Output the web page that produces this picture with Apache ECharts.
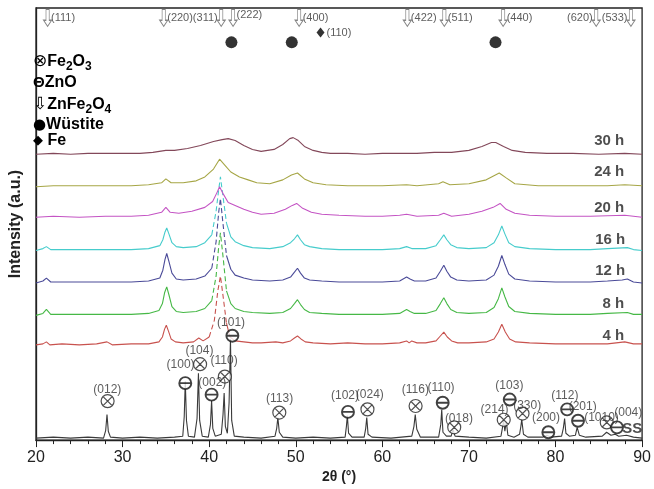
<!DOCTYPE html>
<html><head><meta charset="utf-8">
<script src="https://cdn.jsdelivr.net/npm/echarts@6/dist/echarts.min.js"></script>
<style>html,body{margin:0;padding:0;background:#fff}#c{width:654px;height:489px}</style>
</head><body><div id="c"></div>
<script>
// ---------- data (2θ in degrees, intensity in arbitrary units above each pattern's own baseline) ----------
const seriesNames = ['SS', '4 h', '8 h', '12 h', '16 h', '20 h', '24 h', '30 h'];
const offsets = [2, 97, 127, 160, 193, 227, 258, 291];
const colors = ['#3a3a3a', '#c8524e', '#46b846', '#4a4a98', '#46cccc', '#c454c4', '#a6a646', '#83485a'];

const ss = [[20,0],[22,1],[24,0],[26,1],[27.8,0],[28.05,8],[28.2,24],[28.35,7],[28.6,1],[30,0],[32,1],[34,0],[36,1],[36.95,2],[37.12,22],[37.24,58],[37.38,18],[37.6,2],[38.3,1],[38.6,20],[38.76,66],[38.9,18],[39.2,2],[39.9,1],[40.15,14],[40.28,38],[40.42,10],[40.7,2],[41.4,4],[41.6,24],[41.73,46],[41.87,12],[42.1,5],[42.3,36],[42.46,101],[42.6,18],[42.9,2],[44,1],[46,0],[47.6,2],[47.8,10],[47.93,21],[48.1,6],[48.5,1],[50,0],[52,1],[54,0],[55.7,1],[55.85,12],[55.96,23],[56.1,5],[56.5,1],[57.9,1],[58.08,10],[58.2,21],[58.35,4],[58.8,1],[61,0],[63.4,2],[63.65,12],[63.8,24],[63.98,9],[64.4,1],[66.5,1],[66.75,14],[66.86,29],[67.0,6],[67.4,2],[67.95,2],[68.15,9],[68.4,2],[70,1],[72,0],[73.7,2],[73.9,12],[74.0,18],[74.15,7],[74.32,17],[74.5,3],[75.2,1],[75.85,4],[76.0,12],[76.1,19],[76.3,4],[76.8,1],[78.5,1],[79.0,3],[79.2,5],[79.5,1],[80.7,2],[80.9,10],[81.05,20],[81.2,5],[81.6,2],[82.3,3],[82.5,11],[82.75,3],[83.5,1],[85.4,2],[85.9,6],[86.4,3],[86.9,4],[87.3,2],[88.2,3],[89,1],[90,0]];

const h4 = [[20,0],[20.8,1],[21.2,3],[21.6,0],[23,1],[25,0],[27,1],[28.2,3],[28.8,0],[31,1],[33,1],[34.2,3],[34.6,8],[34.85,16],[35.05,20],[35.3,14],[35.6,6],[36.1,3],[37,2],[38.2,3],[38.8,7],[39.3,4],[40.0,8],[40.6,25],[41.0,55],[41.3,70],[41.6,50],[42.0,22],[42.4,8],[43,4],[44,3],[45,2],[46,2],[47.7,3],[48.5,2],[49.4,4],[49.85,7],[50.2,9],[50.6,6],[51.1,3],[52,2],[54,1],[56,2],[58,1],[60,1],[62,2],[62.8,4],[63.1,2],[63.4,4],[64,2],[65,2],[66.2,4],[66.7,9],[67.1,13],[67.5,8],[68.0,4],[68.7,2],[70,2],[72,3],[72.9,6],[73.4,13],[73.8,21],[74.2,13],[74.7,6],[75.4,3],[77,2],[80,1],[83,1],[86,1],[88,3],[89,1],[90,1]];

const h8 = [[20,0],[20.8,2],[21.2,6],[21.7,1],[23,1],[25,1],[28,1],[31,1],[33,2],[34.2,5],[34.6,12],[34.85,23],[35.1,29],[35.35,21],[35.7,9],[36.2,4],[37,3],[38.5,4],[39.5,7],[40.3,15],[40.8,40],[41.1,70],[41.3,84],[41.6,60],[42.0,25],[42.5,12],[43,7],[44,4],[45,3],[47,2],[48.5,3],[49.4,7],[49.85,12],[50.2,16],[50.55,11],[51.0,6],[51.6,3],[53,2],[55,1],[58,1],[60,1],[62,2],[62.4,4],[62.8,6],[63.2,4],[63.7,2],[65,2],[66.2,5],[66.7,12],[67.1,18],[67.45,12],[67.9,6],[68.6,3],[70,2],[72,3],[72.9,8],[73.4,17],[73.8,28],[74.15,19],[74.6,9],[75.3,4],[77,2],[80,1],[84,1],[86,2],[88.3,3],[89,1],[90,1]];

const h12 = [[20,0],[20.8,2],[21.2,5],[21.7,1],[23,1],[25,1],[28,1],[31,1],[33,2],[34.3,5],[34.65,13],[34.9,24],[35.1,30],[35.35,22],[35.7,10],[36.2,4],[37,3],[38.5,4],[39.5,7],[40.3,15],[40.8,42],[41.1,72],[41.3,86],[41.6,60],[42.0,28],[42.5,14],[43,8],[44,5],[45,3],[47,2],[48.5,3],[49.4,6],[49.85,11],[50.2,15],[50.55,10],[51.0,5],[51.6,3],[53,2],[55,1],[58,1],[60,1],[62,2],[62.4,4],[62.8,6],[63.2,4],[63.7,2],[65,2],[66.2,5],[66.7,12],[67.1,18],[67.45,12],[67.9,6],[68.6,3],[70,2],[72,3],[72.9,8],[73.4,17],[73.8,28],[74.15,19],[74.6,9],[75.3,4],[77,2],[80,1],[84,1],[86,2],[87.7,3],[88.3,4],[89,1],[90,0]];

const h16 = [[20,0],[20.8,2],[21.2,4],[21.7,1],[23,1],[25,1],[28,1],[31,1],[33,2],[34.3,5],[34.65,11],[34.9,19],[35.1,23],[35.35,17],[35.7,8],[36.2,4],[37,3],[38.5,4],[39.5,8],[40.3,16],[40.8,40],[41.1,62],[41.3,75],[41.6,55],[42.0,28],[42.5,14],[43,9],[44,5],[45,3],[47,2],[48.5,4],[49.4,8],[49.85,12],[50.2,16],[50.55,11],[51.0,6],[51.6,4],[53,2],[55,1],[58,1],[60,1],[62,2],[62.8,4],[63.4,2],[65,2],[66.2,5],[66.7,11],[67.1,16],[67.45,11],[67.9,6],[68.6,3],[70,2],[72,3],[72.9,8],[73.4,16],[73.8,25],[74.15,17],[74.6,8],[75.3,4],[77,2],[80,1],[84,1],[86,2],[88.3,3],[89,1],[90,0]];

const h20 = [[20,0],[22,1],[25,0],[28,1],[31,1],[33,2],[34.5,5],[35.0,10],[35.5,5],[36.5,4],[38,6],[39.5,10],[40.4,16],[40.9,25],[41.2,31],[41.6,24],[42.2,15],[43,12],[44,8],[45,5],[46,3],[47.5,4],[48.8,8],[49.6,12],[50.1,14],[50.8,9],[51.8,5],[53,3],[55,2],[58,1],[60,1],[62,2],[62.8,3],[64,1],[66.5,2],[67.1,4],[68,1],[70,3],[71.5,6],[72.8,10],[73.6,14],[74.3,8],[75.3,4],[77,2],[80,1],[84,1],[88,2],[90,0]];

const h24 = [[20,0],[22,1],[25,1],[28,1],[31,1],[33,2],[34.5,4],[35.0,8],[35.6,4],[37,4],[38.5,6],[39.5,10],[40.5,18],[41.2,28],[41.8,22],[42.5,15],[43.5,10],[44.5,7],[45.5,4],[47,3],[48.5,7],[49.5,12],[50.2,14],[51,8],[52,4],[53.5,2],[56,1],[60,1],[62.8,2],[64,1],[66.5,3],[67,5],[67.8,2],[70,3],[72,7],[73.5,14],[74.3,9],[75.3,3],[78,1],[82,1],[86,1],[88,2],[90,1]];

const h30 = [[20,0],[22,1],[24,0],[26,1],[28,1],[30,1],[32,1],[33.5,2],[35,4],[36,4],[37.5,6],[39,9],[40.5,13],[41.5,15],[42.2,16],[43,14],[44,9],[45,5],[46,3],[47.5,5],[48.5,10],[49.3,16],[49.7,17],[50.3,14],[51,8],[52,4],[53,2],[54,1],[56,1],[58,0],[60,1],[62,1],[64,1],[66,2],[68,2],[70,4],[71.5,8],[72.6,12],[73.1,12],[74,8],[75,4],[76.5,2],[79,1],[82,1],[85,0],[88,1],[90,0]];

const patterns = [ss, h4, h8, h12, h16, h20, h24, h30];
// peaks that the original draws with a broken (dashed) stroke: [from, to] in 2θ
const dashedSpans = [null, [40.0, 42.0], [40.3, 42.0], [40.3, 42.0], [40.3, 42.0], null, null, null];

// ZnFe2O4 reflections marked at top: [2θ, hkl, label side]
const znfeRefl = [[21.34,'(111)','right'],[34.75,'(220)','right'],[41.39,'(311)','left'],[42.76,'(222)','right'],[50.39,'(400)','right'],[62.89,'(422)','right'],[67.16,'(511)','right'],[73.95,'(440)','right'],[84.70,'(620)','left'],[88.71,'(533)','left']];
const wustite = [42.57, 49.54, 73.07];
const feRefl = [[52.86, '(110)']];

// SS pattern phase markers: [kind ('F' = Fe2O3, 'Z' = ZnO), 2θ, height]
const ssMarks = [['F',28.27,39.7],['Z',37.24,58],['F',38.95,77.3],['Z',40.28,46.3],['F',41.81,64.7],['Z',42.68,106.3],['F',48.10,28],['Z',56.03,28.7],['F',58.28,31.3],['F',63.84,34.7],['Z',66.97,38],['F',68.30,13],['F',74.02,20.7],['Z',74.71,41.3],['F',76.19,27],['Z',79.17,8],['Z',81.34,31.3],['Z',82.60,19.7],['F',85.92,18],['Z',87.10,13]];
// SS pattern hkl labels: [text, 2θ, height]
const ssLabels = [['(012)',28.24,51.3],['(100)',36.70,76.3],['(104)',38.87,91],['(002)',40.36,58],['(110)',41.73,81.3],['(101)',42.53,120],['(113)',48.14,42],['(102)',55.69,45],['(024)',58.55,46.3],['(116)',63.81,51.3],['(110)',66.78,53],['(018)',68.84,21.3],['(214)',72.96,30.7],['(103)',74.67,55.3],['(330)',76.73,35],['(200)',78.90,23],['(112)',81.08,45],['(201)',83.14,34],['(1010)',85.31,23],['(004)',88.40,28]];
// time labels: [text, 2θ (right edge), height]
const timeLabels = [['30 h',88,305],['24 h',88,273],['20 h',88,236],['16 h',88.1,204],['12 h',88.1,172],['8 h',88,139],['4 h',88,106]];

// ---------- chart ----------
const FONT = '"Liberation Sans", Arial, sans-serif';
const P_OX = 'path://M0,10A10,10,0,1,1,20,10A10,10,0,1,1,0,10ZM3,3L17,17M17,3L3,17';
const P_TH = 'path://M0,10A10,10,0,1,1,20,10A10,10,0,1,1,0,10ZM0.5,10L19.5,10';
const P_AR = 'path://M3,0L7,0L7,11L10,11L5,17L0,11L3,11Z';

const series = [];
patterns.forEach((pts, i) => {
  const off = offsets[i];
  const span = dashedSpans[i];
  const solid = pts.map(p => (span && p[0] > span[0] && p[0] < span[1]) ? [p[0], '-'] : [p[0], p[1] + off]);
  series.push({type:'line', name: seriesNames[i], data: solid, symbol:'none', silent:true, connectNulls:false,
    lineStyle:{color: colors[i], width: 1.1}, z: i === 0 ? 3 : 2});
  if (span) {
    series.push({type:'line', data: pts.filter(p => p[0] >= span[0] && p[0] <= span[1]).map(p => [p[0], p[1] + off]),
      symbol:'none', silent:true, lineStyle:{color: colors[i], width: 1.1, type:[5,3]}, z: 2});
  }
});

const hidden = {color:'rgba(0,0,0,0)'};
// ZnFe2O4 arrows
series.push({type:'scatter', data: znfeRefl.map(r => [r[0], 430]), symbol: P_AR, symbolSize:[8,17], silent:true,
  itemStyle:{color:'#fff', borderColor:'#666', borderWidth:1}, z:5});
series.push({type:'scatter', symbolSize:1, itemStyle:hidden, silent:true, z:6,
  data: znfeRefl.map(r => ({value:[r[0], 430], label:{show:true, formatter:r[1], position:r[2], distance:3,
    offset: r[1] === '(222)' ? [0,-3] : [0,0], fontSize:11, color:'#333', fontFamily:FONT}}))});
// Wüstite
series.push({type:'scatter', data: wustite.map(t => [t, 405]), symbol:'circle', symbolSize:12, silent:true,
  itemStyle:{color:'#000'}, z:5});
// Fe
series.push({type:'scatter', data: feRefl.map(r => ({value:[r[0], 415], label:{show:true, formatter:r[1], position:'right',
    distance:2, fontSize:11, color:'#333', fontFamily:FONT}})), symbol:'diamond', symbolSize:[8,10], silent:true,
  itemStyle:{color:'#000'}, z:5});
// SS phase markers
series.push({type:'scatter', data: ssMarks.filter(m => m[0]==='F').map(m => [m[1], m[2]]), symbol:P_OX, symbolSize:13,
  silent:true, itemStyle:{color:'#fff', borderColor:'#222', borderWidth:1.2}, z:5});
series.push({type:'scatter', data: ssMarks.filter(m => m[0]==='Z').map(m => [m[1], m[2]]), symbol:P_TH, symbolSize:12,
  silent:true, itemStyle:{color:'#fff', borderColor:'#111', borderWidth:1.9}, z:5});
series.push({type:'scatter', symbolSize:1, itemStyle:hidden, silent:true, z:7,
  data: ssLabels.map(l => ({value:[l[1], l[2]], label:{show:true, formatter:l[0], position:'inside',
    fontSize:12, color:'#333', fontFamily:FONT}}))});
series.push({type:'scatter', symbolSize:1, itemStyle:hidden, silent:true, z:7,
  data: [{value:[88.86, 11.3], label:{show:true, formatter:'SS', position:'inside', fontSize:15, fontWeight:'bold', color:'#222', fontFamily:FONT}}]});
// time labels
series.push({type:'scatter', symbolSize:1, itemStyle:hidden, silent:true, z:7,
  data: timeLabels.map(l => ({value:[l[1], l[2]], label:{show:true, formatter:l[0], position:'left', distance:0,
    fontSize:15, fontWeight:'bold', color:'#222', fontFamily:FONT}}))});

const legendRich = {
  b:{fontSize:16, fontWeight:'bold', color:'#222', fontFamily:FONT, lineHeight:22, verticalAlign:'middle'},
  s:{fontSize:12, fontWeight:'bold', color:'#222', fontFamily:FONT, lineHeight:22, verticalAlign:'bottom'},
  ox:{fontSize:17, color:'#222', fontFamily:'"DejaVu Sans"', lineHeight:22},
  th:{fontSize:15, fontWeight:'bold', color:'#222', fontFamily:FONT, lineHeight:22},
  ar:{fontSize:17, color:'#555', fontFamily:'"DejaVu Sans"', lineHeight:22},
  dot:{fontSize:15, color:'#000', fontFamily:'"DejaVu Sans"', lineHeight:22},
  dia:{fontSize:13, color:'#000', fontFamily:'"DejaVu Sans"', lineHeight:22}
};
const legendLines = [
  ['{ox|⊗}{b|Fe}{s|2}{b|O}{s|3}', 61],
  ['{th|Θ}{b|ZnO}', 83],
  ['{ar|⇩}{b|ZnFe}{s|2}{b|O}{s|4}', 104],
  ['{dot|●}{b|Wüstite}', 125],
  ['{dia|◆}{b| Fe}', 141]
];

const chart = echarts.init(document.getElementById('c'));
chart.setOption({
  animation:false,
  backgroundColor:'#fff',
  grid:{left:31, right:11, top:8, bottom:41, show:true, borderColor:'#222', borderWidth:1.3, backgroundColor:'transparent'},
  xAxis:{type:'value', min:20, max:90, interval:10,
    axisLine:{lineStyle:{color:'#222', width:1.3}},
    axisTick:{length:7, lineStyle:{color:'#222'}},
    minorTick:{show:true, splitNumber:5, length:4, lineStyle:{color:'#222'}},
    splitLine:{show:false}, minorSplitLine:{show:false},
    axisLabel:{fontSize:16, color:'#222', margin:9, fontFamily:FONT},
    name:'2θ (°)', nameLocation:'middle', nameGap:28,
    nameTextStyle:{fontSize:14, fontWeight:'bold', color:'#222', fontFamily:FONT}},
  yAxis:{type:'value', min:0, max:440, axisLine:{show:true, lineStyle:{color:'#222', width:1.3}},
    axisTick:{show:false}, axisLabel:{show:false}, splitLine:{show:false},
    name:'Intensity (a.u.)', nameLocation:'middle', nameGap:12, nameRotate:90,
    nameTextStyle:{fontSize:16, fontWeight:'bold', color:'#222', fontFamily:FONT}},
  graphic: legendLines.map(l => ({type:'text', left:33, top:l[1]-8, z:10,
    style:{text:l[0], rich:legendRich}})),
  series: series
});
</script></body></html>
